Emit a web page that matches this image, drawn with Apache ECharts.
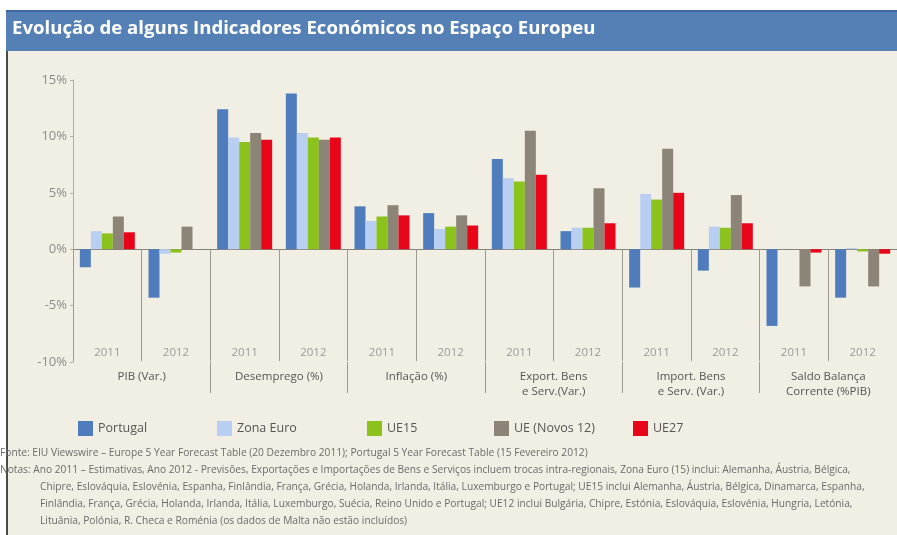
<!DOCTYPE html>
<html>
<head>
<meta charset="utf-8">
<title>Evolução de alguns Indicadores Económicos no Espaço Europeu</title>
<script src="https://cdn.jsdelivr.net/npm/echarts@6/dist/echarts.min.js"></script>
<style>
  html, body { margin: 0; padding: 0; background: #fff; }
  #chart { width: 897px; height: 535px; }
</style>
</head>
<body>
<div id="chart"></div>
<script>
// data (values in %)
const years = ['2011', '2012', '2011', '2012', '2011', '2012', '2011', '2012', '2011', '2012', '2011', '2012']
const indicators = ['PIB (Var.)', 'Desemprego (%)', 'Inflação (%)', 'Export. Bens\ne Serv.(Var.)', 'Import. Bens\ne Serv. (Var.)', 'Saldo Balança\nCorrente (%PIB)']
const yTicks = [-10, -5, 0, 5, 10, 15]

const portugal = [-1.6, -4.3, 12.4, 13.8, 3.8, 3.2, 8.0, 1.6, -3.4, -1.9, -6.8, -4.3]
const zonaEuro = [1.6, -0.4, 9.9, 10.3, 2.5, 1.8, 6.3, 1.9, 4.9, 2.0, 0.0, 0.1]
const ue15 = [1.4, -0.3, 9.5, 9.9, 2.9, 2.0, 6.0, 1.9, 4.4, 1.9, 0.0, -0.2]
const novos12 = [2.9, 2.0, 10.3, 9.7, 3.9, 3.0, 10.5, 5.4, 8.9, 4.8, -3.3, -3.3]
const ue27 = [1.5, 0.0, 9.7, 9.9, 3.0, 2.1, 6.6, 2.3, 5.0, 2.3, -0.3, -0.4]

const seriesNames = ['Portugal', 'Zona Euro', 'UE15', 'UE (Novos 12)', 'UE27']
const seriesColors = ['#4f7cbc', '#b9cff2', '#8cc21c', '#8b8477', '#e8051a']
const seriesData = [portugal, zonaEuro, ue15, novos12, ue27]
const legendLeft = [73, 212, 362, 489, 628]

const fonte = 'Fonte: EIU Viewswire – Europe 5 Year Forecast Table (20 Dezembro 2011); Portugal 5 Year Forecast Table (15 Fevereiro 2012)'
const notas = [
  'Notas: Ano 2011 – Estimativas, Ano 2012 - Previsões, Exportações e Importações de Bens e Serviços incluem trocas intra-regionais, Zona Euro (15) inclui: Alemanha, Áustria, Bélgica,',
  'Chipre, Eslováquia, Eslovénia, Espanha, Finlândia, França, Grécia, Holanda, Irlanda, Itália, Luxemburgo e Portugal; UE15 inclui Alemanha, Áustria, Bélgica, Dinamarca, Espanha,',
  'Finlândia, França, Grécia, Holanda, Irlanda, Itália, Luxemburgo, Suécia, Reino Unido e Portugal; UE12 inclui Bulgária, Chipre, Estónia, Eslováquia, Eslovénia, Hungria, Letónia,',
  'Lituânia, Polónia, R. Checa e Roménia (os dados de Malta não estão incluídos)'
]

const font = '"Open Sans", "Noto Sans", sans-serif'
const lineColor = '#9d9a90'

const chart = echarts.init(document.getElementById('chart'))

const footText = [fonte].concat(notas).map((t, i) => ({
  type: 'text',
  left: i < 2 ? 0 : 40,
  top: 448 + i * 17,
  style: { text: t, font: '10.2px ' + font, fill: '#6b6b6b' }
}))

chart.setOption({
  backgroundColor: '#f1eee3',
  textStyle: { fontFamily: font },
  animation: false,
  graphic: [
    { type: 'rect', shape: { x: 0, y: 0, width: 897, height: 10 }, style: { fill: '#fff' } },
    { type: 'rect', shape: { x: 0, y: 0, width: 6, height: 535 }, style: { fill: '#fff' } },
    { type: 'rect', shape: { x: 6, y: 10, width: 2, height: 525 }, style: { fill: '#4a4a4a' } },
    { type: 'rect', shape: { x: 6, y: 10, width: 891, height: 41 }, style: { fill: '#5580b6' } },
    { type: 'rect', shape: { x: 6, y: 10, width: 891, height: 2 }, style: { fill: '#3e679c' } },
    {
      type: 'text',
      left: 12,
      top: 19,
      style: { text: 'Evolução de alguns Indicadores Económicos no Espaço Europeu', font: 'bold 18.6px ' + font, fill: '#fff' }
    }
  ].concat(footText),
  legend: seriesNames.map((name, i) => ({
    data: [name],
    left: legendLeft[i],
    top: 416,
    icon: 'rect',
    itemWidth: 15,
    itemHeight: 15,
    itemGap: 9,
    textStyle: { color: '#555', fontSize: 12.5, fontFamily: font },
    selectedMode: false
  })),
  grid: {
    left: 73,
    right: -3,
    top: 80,
    bottom: 173
  },
  xAxis: [{
    type: 'category',
    data: years,
    axisLine: { onZero: true, lineStyle: { color: '#85827a', width: 1 } },
    axisTick: { show: true, interval: 0, length: 112, lineStyle: { color: lineColor } },
    axisLabel: { show: false }
  }, {
    type: 'category',
    data: years,
    position: 'bottom',
    axisLine: { show: false, onZero: false },
    axisTick: { show: false },
    axisLabel: { inside: true, margin: 3, interval: 0, color: '#9a9a9a', fontSize: 11.5 }
  }, {
    type: 'category',
    data: indicators,
    position: 'bottom',
    axisLine: { show: false, onZero: false },
    // skip the tick under the y axis
    axisTick: { show: true, interval: (idx) => idx > 0, length: 31, lineStyle: { color: lineColor } },
    axisLabel: { margin: 7, interval: 0, color: '#555', fontSize: 11.5, lineHeight: 15 }
  }],
  yAxis: {
    type: 'value',
    min: yTicks[0],
    max: yTicks[yTicks.length - 1],
    interval: 5,
    axisLine: { show: true, lineStyle: { color: '#b3afa3' } },
    axisTick: { show: true, length: 3, lineStyle: { color: '#b3afa3' } },
    splitLine: { show: false },
    axisLabel: { formatter: '{value}%', color: '#8c8c8c', fontSize: 13, margin: 6 }
  },
  series: seriesNames.map((name, i) => ({
    name: name,
    type: 'bar',
    xAxisIndex: 0,
    data: seriesData[i],
    barWidth: 11,
    barGap: '0%',
    itemStyle: { color: seriesColors[i] }
  }))
})
</script>
</body>
</html>
